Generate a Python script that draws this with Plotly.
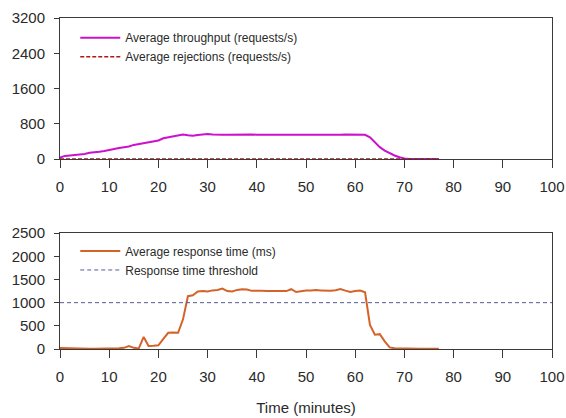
import plotly.graph_objects as go

# Throughput and rejections per minute of the run
minutes = list(range(0, 78))
throughput = [30, 70, 80, 90, 100, 115, 140, 160, 165, 180,
              195, 225, 250, 260, 285, 320, 340, 355, 375, 395,
              420, 470, 490, 510, 530, 555, 540, 530, 545, 560,
              565, 555, 545, 548, 552, 555, 550, 545, 550, 555,
              552, 548, 545, 547, 548, 550, 548, 546, 550, 552,
              550, 548, 548, 550, 552, 548, 545, 550, 555, 556,
              556, 554, 548, 490, 380, 270, 190, 130, 80, 40,
              10, 2, 0, 0, 0, 0, 0, 0]
rejections = [0] * len(minutes)

# Average response time (ms) per minute
response_time = [20, 15, 10, 8, 5, 5, 5, 8, 8, 8,
                 10, 12, 15, 25, 65, 25, 10, 260, 65, 70,
                 80, 220, 350, 355, 350, 640, 1140, 1160, 1240, 1250,
                 1240, 1265, 1275, 1305, 1250, 1240, 1275, 1290, 1285, 1255,
                 1260, 1255, 1250, 1255, 1250, 1252, 1250, 1290, 1230, 1250,
                 1262, 1262, 1272, 1265, 1255, 1255, 1270, 1292, 1260, 1232,
                 1250, 1262, 1225, 520, 310, 320, 165, 35, 15, 10,
                 8, 6, 5, 5, 5, 5, 5, 5]
threshold_x = [0, 100]
threshold_y = [1000, 1000]

x_ticks = [0, 10, 20, 30, 40, 50, 60, 70, 80, 90, 100]
top_y_ticks = [0, 800, 1600, 2400, 3200]
bottom_y_ticks = [0, 500, 1000, 1500, 2000, 2500]

FONT = "Liberation Sans, Arial, sans-serif"
TEXT = "#2a2a2a"
AXIS = "#3a3a3a"

fig = go.Figure()

fig.add_trace(go.Scatter(x=minutes, y=throughput, mode="lines",
                         name="Average throughput (requests/s)",
                         line=dict(color="#cc11cc", width=2),
                         xaxis="x", yaxis="y", legend="legend"))
fig.add_trace(go.Scatter(x=minutes, y=rejections, mode="lines",
                         name="Average rejections (requests/s)",
                         line=dict(color="#b01818", width=1.6, dash="4px,2px"),
                         xaxis="x", yaxis="y", legend="legend"))
fig.add_trace(go.Scatter(x=minutes, y=response_time, mode="lines",
                         name="Average response time (ms)",
                         line=dict(color="#d4632a", width=2),
                         xaxis="x2", yaxis="y2", legend="legend2"))
fig.add_trace(go.Scatter(x=threshold_x, y=threshold_y, mode="lines",
                         name="Response time threshold",
                         line=dict(color="#565a9c", width=1, dash="4px,3px"),
                         xaxis="x2", yaxis="y2", legend="legend2"))

xaxis_common = dict(range=[0, 100], tickvals=x_ticks, ticks="outside", ticklen=8,
                    tickwidth=1, tickcolor=AXIS, showline=True, linecolor=AXIS,
                    linewidth=1, mirror=True, showgrid=False, zeroline=False,
                    ticklabelstandoff=6, automargin=False,
                    tickfont=dict(family=FONT, size=15, color=TEXT))
yaxis_common = dict(ticks="outside", ticklen=5, tickwidth=1, tickcolor=AXIS,
                    showline=True, linecolor=AXIS, linewidth=1, mirror=True,
                    showgrid=False, zeroline=False, ticklabelstandoff=6,
                    automargin=False,
                    tickfont=dict(family=FONT, size=15, color=TEXT))

legend_common = dict(bgcolor="rgba(0,0,0,0)", borderwidth=0,
                     font=dict(family=FONT, size=12, color=TEXT),
                     xanchor="left", yanchor="top", tracegroupgap=0,
                     itemwidth=40)

fig.update_layout(
    width=566, height=418,
    margin=dict(l=60, r=14, t=18, b=69),
    paper_bgcolor="white", plot_bgcolor="white",
    showlegend=True,
    xaxis=dict(domain=[0, 1], anchor="y", **xaxis_common),
    yaxis=dict(domain=[0.574, 1], range=[0, 3200], tickvals=top_y_ticks,
               anchor="x", **yaxis_common),
    xaxis2=dict(domain=[0, 1], anchor="y2",
                title=dict(text="Time (minutes)", standoff=18,
                           font=dict(family=FONT, size=15, color=TEXT)),
                **xaxis_common),
    yaxis2=dict(domain=[0, 0.350], range=[0, 2500], tickvals=bottom_y_ticks,
                anchor="x2", **yaxis_common),
    legend=dict(x=0.031, y=0.984, **legend_common),
    legend2=dict(x=0.031, y=0.34, **legend_common),
)

fig.write_html("out.html")
